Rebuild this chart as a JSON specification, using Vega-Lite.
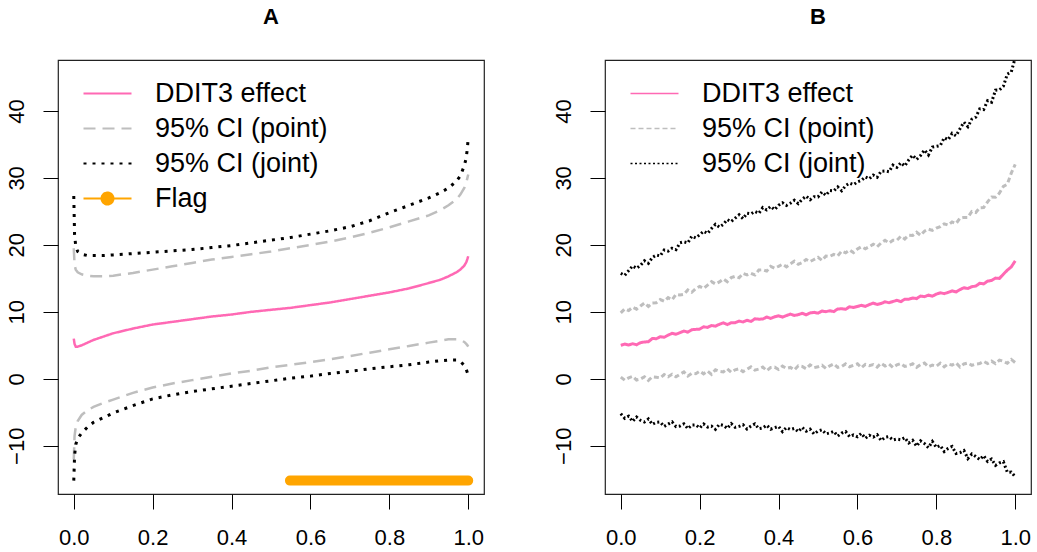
{
"$schema": "https://vega.github.io/schema/vega-lite/v6.json",
"padding": {"left": 4, "top": 5, "right": 0, "bottom": 0},
"config": {
  "font": "Liberation Sans",
  "view": {"stroke": "#222", "strokeWidth": 1.2},
  "axis": {"domain": false, "grid": false, "title": null, "tickColor": "#000", "tickSize": 15, "tickWidth": 1, "labelColor": "#000", "labelFontSize": 22, "labelFont": "Liberation Sans"},
  "axisY": {"labelAngle": -90, "labelAlign": "center", "labelBaseline": "alphabetic", "labelPadding": 20},
  "axisX": {"labelPadding": 18},
  "title": {"fontSize": 22, "fontWeight": "bold", "font": "Liberation Sans", "color": "#000"}
},
"datasets": {
  "A": [
    {"x":0,"e":6.0,"pl":-12.0,"pu":19.5,"jl":-15.2,"ju":27.3},
    {"x":0.002,"e":5.2,"pl":-8.5,"pu":17.0,"jl":-11.5,"ju":21.5},
    {"x":0.005,"e":4.8,"pl":-7.2,"pu":16.3,"jl":-9.8,"ju":19.8},
    {"x":0.01,"e":4.8,"pl":-6.3,"pu":15.9,"jl":-8.9,"ju":19.0},
    {"x":0.02,"e":5.0,"pl":-5.4,"pu":15.6,"jl":-8.1,"ju":18.6},
    {"x":0.035,"e":5.4,"pl":-4.7,"pu":15.4,"jl":-7.2,"ju":18.4},
    {"x":0.05,"e":5.8,"pl":-4.2,"pu":15.3,"jl":-6.5,"ju":18.4},
    {"x":0.075,"e":6.3,"pl":-3.6,"pu":15.3,"jl":-5.8,"ju":18.4},
    {"x":0.1,"e":6.8,"pl":-3.1,"pu":15.4,"jl":-5.1,"ju":18.5},
    {"x":0.15,"e":7.5,"pl":-2.1,"pu":15.8,"jl":-4.0,"ju":18.7},
    {"x":0.2,"e":8.1,"pl":-1.3,"pu":16.3,"jl":-3.0,"ju":18.9},
    {"x":0.25,"e":8.5,"pl":-0.7,"pu":16.8,"jl":-2.4,"ju":19.1},
    {"x":0.3,"e":8.9,"pl":-0.2,"pu":17.3,"jl":-1.9,"ju":19.3},
    {"x":0.35,"e":9.3,"pl":0.3,"pu":17.8,"jl":-1.5,"ju":19.6},
    {"x":0.4,"e":9.6,"pl":0.8,"pu":18.2,"jl":-1.1,"ju":19.9},
    {"x":0.45,"e":10.0,"pl":1.2,"pu":18.6,"jl":-0.7,"ju":20.3},
    {"x":0.5,"e":10.3,"pl":1.7,"pu":19.0,"jl":-0.3,"ju":20.7},
    {"x":0.55,"e":10.6,"pl":2.1,"pu":19.5,"jl":0.1,"ju":21.1},
    {"x":0.6,"e":11.0,"pl":2.5,"pu":20.0,"jl":0.4,"ju":21.6},
    {"x":0.65,"e":11.4,"pl":2.9,"pu":20.5,"jl":0.8,"ju":22.1},
    {"x":0.7,"e":11.9,"pl":3.4,"pu":21.1,"jl":1.1,"ju":22.7},
    {"x":0.75,"e":12.4,"pl":3.9,"pu":21.8,"jl":1.5,"ju":23.6},
    {"x":0.8,"e":12.9,"pl":4.4,"pu":22.6,"jl":1.8,"ju":24.8},
    {"x":0.85,"e":13.5,"pl":4.9,"pu":23.5,"jl":2.1,"ju":25.9},
    {"x":0.9,"e":14.3,"pl":5.4,"pu":24.4,"jl":2.5,"ju":27.0},
    {"x":0.93,"e":14.8,"pl":5.7,"pu":25.2,"jl":2.7,"ju":27.8},
    {"x":0.95,"e":15.3,"pl":5.9,"pu":25.9,"jl":2.8,"ju":28.5},
    {"x":0.97,"e":15.9,"pl":5.9,"pu":26.8,"jl":2.8,"ju":29.5},
    {"x":0.98,"e":16.3,"pl":5.8,"pu":27.5,"jl":2.6,"ju":30.3},
    {"x":0.99,"e":16.9,"pl":5.5,"pu":28.5,"jl":2.0,"ju":31.8},
    {"x":0.995,"e":17.4,"pl":5.2,"pu":29.3,"jl":1.4,"ju":33.0},
    {"x":0.998,"e":17.9,"pl":5.0,"pu":30.0,"jl":0.9,"ju":34.5},
    {"x":1.0,"e":18.3,"pl":4.8,"pu":30.5,"jl":0.4,"ju":36.0}
  ],
  "flag": [
    {"x":0.548,"y":-15.2},
    {"x":1.0,"y":-15.2}
  ],
  "B": [
    {"x":0,"e":5.0,"pl":0.26,"pu":9.84,"jl":-5.2,"ju":15.75},
    {"x":0.01,"e":5.18,"pl":-0.2,"pu":10.44,"jl":-5.89,"ju":15.45},
    {"x":0.02,"e":5.04,"pl":0.14,"pu":10.2,"jl":-5.58,"ju":16.15},
    {"x":0.03,"e":5.24,"pl":0.36,"pu":10.68,"jl":-6.37,"ju":16.85},
    {"x":0.04,"e":5.08,"pl":-0.18,"pu":10.4,"jl":-5.71,"ju":16.5},
    {"x":0.05,"e":5.4,"pl":-0.04,"pu":10.88,"jl":-6.2,"ju":16.95},
    {"x":0.06,"e":5.5,"pl":0.3,"pu":11.32,"jl":-6.45,"ju":17.62},
    {"x":0.07,"e":5.54,"pl":-0.24,"pu":10.8,"jl":-6.0,"ju":17.24},
    {"x":0.08,"e":6.02,"pl":0.3,"pu":11.32,"jl":-6.8,"ju":18.11},
    {"x":0.09,"e":5.98,"pl":0.24,"pu":11.36,"jl":-6.5,"ju":18.48},
    {"x":0.1,"e":6.28,"pl":0.14,"pu":11.84,"jl":-6.45,"ju":18.35},
    {"x":0.11,"e":6.2,"pl":0.64,"pu":11.58,"jl":-7.11,"ju":19.23},
    {"x":0.12,"e":6.52,"pl":0.3,"pu":12.12,"jl":-6.77,"ju":19.06},
    {"x":0.13,"e":6.78,"pl":0.68,"pu":11.78,"jl":-6.43,"ju":19.49},
    {"x":0.14,"e":6.66,"pl":0.3,"pu":12.6,"jl":-7.14,"ju":19.27},
    {"x":0.15,"e":6.88,"pl":0.68,"pu":12.5,"jl":-7.05,"ju":20.3},
    {"x":0.16,"e":7.14,"pl":1.02,"pu":12.6,"jl":-6.72,"ju":20.45},
    {"x":0.17,"e":6.96,"pl":0.4,"pu":13.26,"jl":-7.44,"ju":20.3},
    {"x":0.18,"e":7.32,"pl":0.82,"pu":12.92,"jl":-6.91,"ju":21.3},
    {"x":0.19,"e":7.38,"pl":0.76,"pu":13.46,"jl":-6.88,"ju":21.05},
    {"x":0.2,"e":7.42,"pl":1.14,"pu":13.8,"jl":-7.35,"ju":21.5},
    {"x":0.21,"e":7.76,"pl":0.74,"pu":13.5,"jl":-6.75,"ju":22.03},
    {"x":0.22,"e":7.68,"pl":1.14,"pu":14.0,"jl":-7.2,"ju":21.71},
    {"x":0.23,"e":7.96,"pl":0.66,"pu":14.5,"jl":-7.05,"ju":22.44},
    {"x":0.24,"e":7.86,"pl":1.34,"pu":14.16,"jl":-7.55,"ju":23.07},
    {"x":0.25,"e":8.14,"pl":1.1,"pu":14.46,"jl":-6.8,"ju":22.65},
    {"x":0.26,"e":8.36,"pl":1.02,"pu":14.9,"jl":-6.95,"ju":23.06},
    {"x":0.27,"e":8.1,"pl":1.5,"pu":14.5,"jl":-7.4,"ju":23.77},
    {"x":0.28,"e":8.36,"pl":0.98,"pu":15.1,"jl":-6.7,"ju":23.48},
    {"x":0.29,"e":8.38,"pl":1.34,"pu":15.3,"jl":-7.25,"ju":23.99},
    {"x":0.3,"e":8.62,"pl":1.5,"pu":15.1,"jl":-7.1,"ju":24.5},
    {"x":0.31,"e":8.48,"pl":1.06,"pu":15.72,"jl":-6.87,"ju":23.91},
    {"x":0.32,"e":8.74,"pl":1.42,"pu":15.5,"jl":-7.49,"ju":24.72},
    {"x":0.33,"e":8.56,"pl":1.78,"pu":15.76,"jl":-7.06,"ju":24.63},
    {"x":0.34,"e":8.96,"pl":1.3,"pu":15.5,"jl":-6.73,"ju":24.99},
    {"x":0.35,"e":8.9,"pl":1.46,"pu":16.24,"jl":-7.45,"ju":24.7},
    {"x":0.36,"e":8.92,"pl":1.76,"pu":16.28,"jl":-7.34,"ju":25.56},
    {"x":0.37,"e":9.22,"pl":1.22,"pu":16.08,"jl":-6.93,"ju":25.22},
    {"x":0.38,"e":9.02,"pl":1.68,"pu":16.8,"jl":-7.52,"ju":25.73},
    {"x":0.39,"e":9.26,"pl":1.74,"pu":16.52,"jl":-7.31,"ju":25.24},
    {"x":0.4,"e":9.4,"pl":1.4,"pu":16.8,"jl":-7.1,"ju":25.9},
    {"x":0.41,"e":9.22,"pl":1.9,"pu":17.1,"jl":-7.89,"ju":26.29},
    {"x":0.42,"e":9.44,"pl":1.56,"pu":16.72,"jl":-7.28,"ju":25.88},
    {"x":0.43,"e":9.66,"pl":1.7,"pu":17.18,"jl":-7.57,"ju":26.22},
    {"x":0.44,"e":9.46,"pl":1.32,"pu":17.56,"jl":-7.41,"ju":26.66},
    {"x":0.45,"e":9.58,"pl":1.94,"pu":17.1,"jl":-7.9,"ju":26.15},
    {"x":0.46,"e":9.78,"pl":1.84,"pu":17.34,"jl":-7.26,"ju":26.81},
    {"x":0.47,"e":9.56,"pl":1.5,"pu":17.82,"jl":-7.82,"ju":27.27},
    {"x":0.48,"e":9.84,"pl":2.08,"pu":17.5,"jl":-7.53,"ju":26.73},
    {"x":0.49,"e":9.92,"pl":1.66,"pu":17.82,"jl":-8.24,"ju":27.19},
    {"x":0.5,"e":9.8,"pl":1.8,"pu":18.14,"jl":-7.8,"ju":27.15},
    {"x":0.51,"e":10.12,"pl":2.02,"pu":17.68,"jl":-7.61,"ju":27.9},
    {"x":0.52,"e":10.02,"pl":1.56,"pu":18.34,"jl":-8.22,"ju":27.4},
    {"x":0.53,"e":10.16,"pl":1.94,"pu":18.28,"jl":-8.08,"ju":28.1},
    {"x":0.54,"e":10.04,"pl":2.24,"pu":18.58,"jl":-7.84,"ju":28.05},
    {"x":0.55,"e":10.42,"pl":1.7,"pu":18.36,"jl":-8.55,"ju":28.65},
    {"x":0.56,"e":10.46,"pl":1.84,"pu":19.06,"jl":-8.11,"ju":28.07},
    {"x":0.57,"e":10.38,"pl":2.22,"pu":18.8,"jl":-7.87,"ju":28.84},
    {"x":0.58,"e":10.76,"pl":1.8,"pu":19.22,"jl":-8.63,"ju":29.21},
    {"x":0.59,"e":10.64,"pl":2.02,"pu":18.84,"jl":-8.39,"ju":28.98},
    {"x":0.6,"e":10.8,"pl":2.24,"pu":19.38,"jl":-8.65,"ju":29.4},
    {"x":0.61,"e":10.98,"pl":1.64,"pu":19.72,"jl":-8.14,"ju":29.62},
    {"x":0.62,"e":10.82,"pl":2.16,"pu":19.42,"jl":-8.88,"ju":30.14},
    {"x":0.63,"e":11.08,"pl":1.96,"pu":19.72,"jl":-8.42,"ju":29.86},
    {"x":0.64,"e":11.3,"pl":2.12,"pu":20.1,"jl":-8.71,"ju":30.43},
    {"x":0.65,"e":11.1,"pl":1.76,"pu":19.72,"jl":-8.35,"ju":30.1},
    {"x":0.66,"e":11.24,"pl":2.32,"pu":20.28,"jl":-9.21,"ju":30.99},
    {"x":0.67,"e":11.5,"pl":1.92,"pu":20.68,"jl":-8.72,"ju":31.03},
    {"x":0.68,"e":11.36,"pl":2.2,"pu":20.28,"jl":-8.63,"ju":30.92},
    {"x":0.69,"e":11.54,"pl":1.68,"pu":20.68,"jl":-9.14,"ju":31.91},
    {"x":0.7,"e":11.72,"pl":2.08,"pu":20.68,"jl":-9.0,"ju":31.56},
    {"x":0.71,"e":11.52,"pl":2.28,"pu":21.28,"jl":-9.1,"ju":32.26},
    {"x":0.72,"e":11.88,"pl":1.84,"pu":20.88,"jl":-8.78,"ju":31.77},
    {"x":0.73,"e":11.88,"pl":2.0,"pu":21.44,"jl":-9.58,"ju":32.68},
    {"x":0.74,"e":12.06,"pl":2.24,"pu":21.4,"jl":-9.19,"ju":33.38},
    {"x":0.75,"e":11.98,"pl":1.72,"pu":21.88,"jl":-10.06,"ju":32.75},
    {"x":0.76,"e":12.36,"pl":2.12,"pu":21.42,"jl":-9.27,"ju":33.35},
    {"x":0.77,"e":12.26,"pl":2.36,"pu":22.04,"jl":-9.67,"ju":34.16},
    {"x":0.78,"e":12.5,"pl":1.8,"pu":22.34,"jl":-10.28,"ju":33.43},
    {"x":0.79,"e":12.34,"pl":2.04,"pu":22.16,"jl":-9.35,"ju":34.59},
    {"x":0.8,"e":12.64,"pl":1.88,"pu":22.5,"jl":-10.24,"ju":34.7},
    {"x":0.81,"e":12.84,"pl":2.34,"pu":22.7,"jl":-9.96,"ju":34.82},
    {"x":0.82,"e":12.72,"pl":1.8,"pu":23.14,"jl":-10.87,"ju":35.99},
    {"x":0.83,"e":12.9,"pl":2.22,"pu":22.94,"jl":-10.38,"ju":35.69},
    {"x":0.84,"e":13.12,"pl":2.04,"pu":23.42,"jl":-10.1,"ju":36.65},
    {"x":0.85,"e":12.96,"pl":2.38,"pu":23.18,"jl":-11.15,"ju":36.28},
    {"x":0.86,"e":13.32,"pl":1.76,"pu":23.98,"jl":-11.03,"ju":37.34},
    {"x":0.87,"e":13.6,"pl":2.22,"pu":24.1,"jl":-10.7,"ju":38.33},
    {"x":0.88,"e":13.48,"pl":2.36,"pu":24.1,"jl":-11.91,"ju":37.64},
    {"x":0.89,"e":13.76,"pl":2.02,"pu":24.98,"jl":-11.23,"ju":38.77},
    {"x":0.9,"e":13.84,"pl":2.2,"pu":24.82,"jl":-11.6,"ju":39.06},
    {"x":0.91,"e":14.26,"pl":2.28,"pu":25.54,"jl":-12.06,"ju":40.3},
    {"x":0.92,"e":14.18,"pl":2.6,"pu":25.58,"jl":-11.47,"ju":40.21},
    {"x":0.93,"e":14.58,"pl":2.28,"pu":26.42,"jl":-12.35,"ju":41.52},
    {"x":0.94,"e":14.68,"pl":2.64,"pu":27.14,"jl":-11.97,"ju":41.29},
    {"x":0.95,"e":15.04,"pl":2.28,"pu":27.1,"jl":-12.92,"ju":43.09},
    {"x":0.96,"e":14.99,"pl":2.79,"pu":27.73,"jl":-12.56,"ju":43.12},
    {"x":0.97,"e":15.62,"pl":2.62,"pu":28.72,"jl":-12.37,"ju":43.69},
    {"x":0.98,"e":16.22,"pl":2.32,"pu":29.06,"jl":-13.96,"ju":45.5},
    {"x":0.99,"e":16.71,"pl":2.89,"pu":30.71,"jl":-13.93,"ju":45.82},
    {"x":1.0,"e":17.6,"pl":2.42,"pu":32.0,"jl":-14.64,"ju":47.94}
  ]
},
"bounds": "flush",
"spacing": 121,
"resolve": {"scale": {"x": "independent", "y": "independent", "color": "independent", "strokeDash": "independent"}, "legend": {"color": "independent", "strokeDash": "independent"}},
"hconcat": [
  {
    "title": {"text": "A", "fontSize": 22, "fontWeight": "bold", "font": "Liberation Sans", "color": "#000", "baseline": "alphabetic", "offset": 14, "anchor": "middle"},
    "width": 426, "height": 434,
    "data": {"name": "A"},
    "encoding": {
      "x": {"field": "x", "type": "quantitative", "scale": {"domain": [-0.04, 1.04], "nice": false, "zero": false}, "axis": {"values": [0, 0.2, 0.4, 0.6, 0.8, 1], "format": ".1f"}}
    },
    "layer": [
      {"mark": {"type": "line", "strokeWidth": 2.5, "clip": true},
       "encoding": {
         "y": {"field": "e", "type": "quantitative", "scale": {"domain": [-17.2, 47.6], "nice": false, "zero": false}, "axis": {"values": [-10, 0, 10, 20, 30, 40]}},
         "color": {"datum": "DDIT3 effect", "type": "nominal", "scale": {"domain": ["DDIT3 effect", "95% CI (point)", "95% CI (joint)", "Flag"], "range": ["#FF69B4", "#BEBEBE", "#000000", "#FFA500"]},
           "legend": {"title": null, "orient": "none", "legendX": 36, "legendY": 20, "padding": 0, "symbolSize": 576, "symbolStrokeWidth": 2, "symbolType": "M-2,0H2", "labelFontSize": 27, "labelFont": "Liberation Sans", "labelColor": "#000", "labelOffset": 34, "labelLimit": 500, "rowPadding": 7,
             "encode": {"symbols": {"update": {
               "shape": {"signal": "datum.value === 'Flag' ? 'M-2,0H2M-0.5,0A0.5,0.5,0,1,1,0.5,0A0.5,0.5,0,1,1,-0.5,0Z' : 'M-2,0H2'"},
               "fill": {"signal": "datum.value === 'Flag' ? '#FFA500' : 'transparent'"}}}}}},
         "strokeDash": {"datum": "DDIT3 effect", "type": "nominal", "scale": {"domain": ["DDIT3 effect", "95% CI (point)", "95% CI (joint)", "Flag"], "range": [[1, 0], [12, 7], [3, 6], [1, 0]]}, "legend": {"title": null}}
       }},
      {"mark": {"type": "line", "strokeWidth": 2.5, "clip": true},
       "encoding": {"y": {"field": "pu", "type": "quantitative"}, "color": {"datum": "95% CI (point)", "type": "nominal"}, "strokeDash": {"datum": "95% CI (point)", "type": "nominal"}}},
      {"mark": {"type": "line", "strokeWidth": 2.5, "clip": true},
       "encoding": {"y": {"field": "pl", "type": "quantitative"}, "color": {"datum": "95% CI (point)", "type": "nominal"}, "strokeDash": {"datum": "95% CI (point)", "type": "nominal"}}},
      {"mark": {"type": "line", "strokeWidth": 3, "clip": true},
       "encoding": {"y": {"field": "ju", "type": "quantitative"}, "color": {"datum": "95% CI (joint)", "type": "nominal"}, "strokeDash": {"datum": "95% CI (joint)", "type": "nominal"}}},
      {"mark": {"type": "line", "strokeWidth": 3, "clip": true},
       "encoding": {"y": {"field": "jl", "type": "quantitative"}, "color": {"datum": "95% CI (joint)", "type": "nominal"}, "strokeDash": {"datum": "95% CI (joint)", "type": "nominal"}}},
      {"data": {"name": "flag"},
       "mark": {"type": "line", "strokeWidth": 10, "strokeCap": "round", "clip": true},
       "encoding": {"y": {"field": "y", "type": "quantitative"}, "color": {"datum": "Flag", "type": "nominal"}, "strokeDash": {"datum": "Flag", "type": "nominal"}}}
    ]
  },
  {
    "title": {"text": "B", "fontSize": 22, "fontWeight": "bold", "font": "Liberation Sans", "color": "#000", "baseline": "alphabetic", "offset": 14, "anchor": "middle"},
    "width": 426, "height": 434,
    "data": {"name": "B"},
    "encoding": {
      "x": {"field": "x", "type": "quantitative", "scale": {"domain": [-0.04, 1.04], "nice": false, "zero": false}, "axis": {"values": [0, 0.2, 0.4, 0.6, 0.8, 1], "format": ".1f"}}
    },
    "layer": [
      {"mark": {"type": "line", "strokeWidth": 3, "clip": true},
       "encoding": {
         "y": {"field": "e", "type": "quantitative", "scale": {"domain": [-17.2, 47.6], "nice": false, "zero": false}, "axis": {"values": [-10, 0, 10, 20, 30, 40]}},
         "color": {"datum": "DDIT3 effect", "type": "nominal", "scale": {"domain": ["DDIT3 effect", "95% CI (point)", "95% CI (joint)"], "range": ["#FF69B4", "#BEBEBE", "#000000"]},
           "legend": {"title": null, "orient": "none", "legendX": 36, "legendY": 20, "padding": 0, "symbolSize": 576, "symbolStrokeWidth": 1.5, "symbolType": "M-2,0H2", "labelFontSize": 27, "labelFont": "Liberation Sans", "labelColor": "#000", "labelOffset": 34, "labelLimit": 500, "rowPadding": 7,
             "encode": {"symbols": {"update": {
               "stroke": {"signal": "datum.value === 'DDIT3 effect' ? '#FF69B4' : datum.value === '95% CI (point)' ? '#BEBEBE' : '#000000'"},
               "strokeDash": {"signal": "datum.value === '95% CI (point)' ? [4, 4] : datum.value === '95% CI (joint)' ? [1, 3] : [1, 0]"},
               "fill": {"value": "transparent"}}}}}},
         "strokeDash": {"datum": "DDIT3 effect", "type": "nominal", "scale": {"domain": ["DDIT3 effect", "95% CI (point)", "95% CI (joint)"], "range": [[1, 0], [5, 3], [2, 2.5]]}, "legend": {"title": null}}
       }},
      {"mark": {"type": "line", "strokeWidth": 3, "clip": true},
       "encoding": {"y": {"field": "pu", "type": "quantitative"}, "color": {"datum": "95% CI (point)", "type": "nominal"}, "strokeDash": {"datum": "95% CI (point)", "type": "nominal"}}},
      {"mark": {"type": "line", "strokeWidth": 3, "clip": true},
       "encoding": {"y": {"field": "pl", "type": "quantitative"}, "color": {"datum": "95% CI (point)", "type": "nominal"}, "strokeDash": {"datum": "95% CI (point)", "type": "nominal"}}},
      {"mark": {"type": "line", "strokeWidth": 3, "clip": true},
       "encoding": {"y": {"field": "ju", "type": "quantitative"}, "color": {"datum": "95% CI (joint)", "type": "nominal"}, "strokeDash": {"datum": "95% CI (joint)", "type": "nominal"}}},
      {"mark": {"type": "line", "strokeWidth": 3, "clip": true},
       "encoding": {"y": {"field": "jl", "type": "quantitative"}, "color": {"datum": "95% CI (joint)", "type": "nominal"}, "strokeDash": {"datum": "95% CI (joint)", "type": "nominal"}}}
    ]
  }
]
}
